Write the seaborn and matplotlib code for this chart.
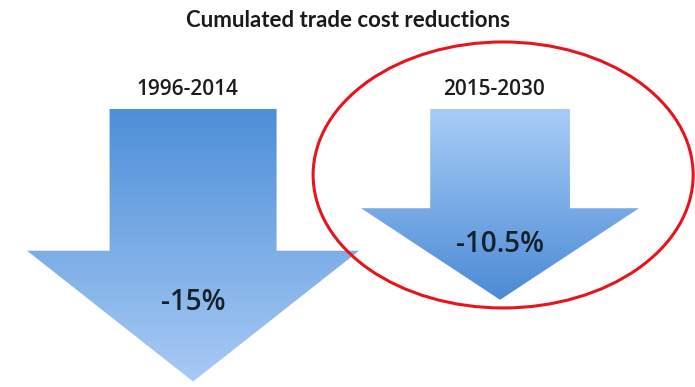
import numpy as np
import matplotlib
matplotlib.use("Agg")
import matplotlib.pyplot as plt
from matplotlib.patches import Polygon, Ellipse
import seaborn as sns

# Data
periods = ["1996-2014", "2015-2030"]
reductions = [-15.0, -10.5]
value_labels = ["-15%", "-10.5%"]
title = "Cumulated trade cost reductions"
highlighted = "2015-2030"

# Gradient colours (top -> bottom) for each arrow
grad_top = ["#4d8fd8", "#a9ccf7"]
grad_bottom = ["#a8caf4", "#4a8bd5"]

sns.set_theme(style="white")
plt.rcParams["font.family"] = ["Lato", "DejaVu Sans"]
label_font = ["Open Sans", "Lato", "DejaVu Sans"]

fig = plt.figure(figsize=(6.95, 3.87), dpi=100)
ax = fig.add_axes([0, 0, 1, 1])
ax.axis("off")

vmax = max(abs(v) for v in reductions)
grad = np.linspace(0, 1, 256).reshape(-1, 1)

for i, (period, v, lab) in enumerate(zip(periods, reductions, value_labels)):
    # arrow widths grow with the square root of the reduction, length with the value
    s = np.sqrt(abs(v) / vmax)
    shaft_hw = 0.272 * s
    head_hw = 0.541 * s
    head_base = 0.52 * v
    pts = [(i - shaft_hw, 0), (i + shaft_hw, 0), (i + shaft_hw, head_base),
           (i + head_hw, head_base), (i, v), (i - head_hw, head_base),
           (i - shaft_hw, head_base)]
    poly = Polygon(pts, closed=True, facecolor="none", edgecolor="none")
    ax.add_patch(poly)
    cmap = sns.blend_palette([grad_top[i], grad_bottom[i]], as_cmap=True)
    im = ax.imshow(grad, cmap=cmap, aspect="auto", origin="upper",
                   extent=[i - head_hw, i + head_hw, v, 0], interpolation="bicubic")
    im.set_clip_path(poly)

    ax.text(i - 0.02, 1.05, period, ha="center", va="center", family=label_font,
            fontsize=15, color="#1c1c1c", fontweight="semibold")
    ax.text(i, 0.71 * v, lab, ha="center", va="center", family=label_font,
            fontsize=20, color="#16202a", fontweight="semibold")

# Highlight ring around the projected period
j = periods.index(highlighted)
ax.add_patch(Ellipse((j + 0.01, -3.63), width=1.238, height=14.64,
                     facecolor="none", edgecolor="#e8141b", linewidth=2.2))

ax.set_xlim(-0.629, 1.635)
ax.set_ylim(-15.3, 6.0)

fig.text(0.5, 0.946, title, ha="center", va="center", fontsize=16,
         fontweight="bold", color="#1a1a1a")

fig.savefig("out.png", dpi=100, facecolor="white")
